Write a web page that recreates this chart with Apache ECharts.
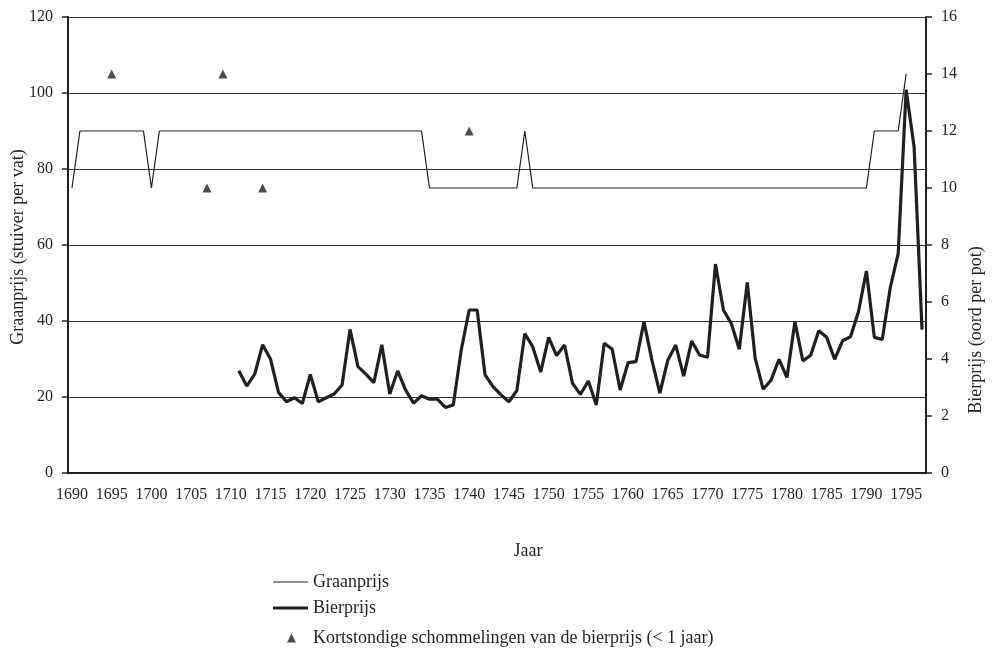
<!DOCTYPE html>
<html><head><meta charset="utf-8">
<script src="https://cdn.jsdelivr.net/npm/echarts@6/dist/echarts.min.js"></script>
<style>html,body{margin:0;padding:0;background:#fff}#c{width:992px;height:649px}</style>
</head><body><div id="c"></div>
<script>
const years = ['1690','1691','1692','1693','1694','1695','1696','1697','1698','1699',
'1700','1701','1702','1703','1704','1705','1706','1707','1708','1709',
'1710','1711','1712','1713','1714','1715','1716','1717','1718','1719',
'1720','1721','1722','1723','1724','1725','1726','1727','1728','1729',
'1730','1731','1732','1733','1734','1735','1736','1737','1738','1739',
'1740','1741','1742','1743','1744','1745','1746','1747','1748','1749',
'1750','1751','1752','1753','1754','1755','1756','1757','1758','1759',
'1760','1761','1762','1763','1764','1765','1766','1767','1768','1769',
'1770','1771','1772','1773','1774','1775','1776','1777','1778','1779',
'1780','1781','1782','1783','1784','1785','1786','1787','1788','1789',
'1790','1791','1792','1793','1794','1795','1796','1797'];

// Graanprijs (stuiver per vat), 1690-1797
const graanprijs = [
75,90,90,90,90,90,90,90,90,90,        // 1690-1699
75,90,90,90,90,90,90,90,90,90,        // 1700-1709
90,90,90,90,90,90,90,90,90,90,        // 1710-1719
90,90,90,90,90,90,90,90,90,90,        // 1720-1729
90,90,90,90,90,75,75,75,75,75,        // 1730-1739
75,75,75,75,75,75,75,90,75,75,        // 1740-1749
75,75,75,75,75,75,75,75,75,75,        // 1750-1759
75,75,75,75,75,75,75,75,75,75,        // 1760-1769
75,75,75,75,75,75,75,75,75,75,        // 1770-1779
75,75,75,75,75,75,75,75,75,75,        // 1780-1789
75,90,90,90,90,105,null,null];        // 1790-1797

// Bierprijs (oord per pot), 1690-1797
const bierprijs = [
null,null,null,null,null,null,null,null,null,null,
null,null,null,null,null,null,null,null,null,null,
null,3.59,3.05,3.47,4.5,3.99,2.83,2.5,2.64,2.44,
3.46,2.5,2.64,2.77,3.09,5.04,3.73,3.47,3.17,4.5,
2.77,3.58,2.91,2.45,2.71,2.59,2.59,2.3,2.39,4.32,
5.72,5.72,3.44,3.03,2.74,2.5,2.89,4.89,4.43,3.54,
4.76,4.12,4.49,3.15,2.76,3.23,2.39,4.55,4.34,2.91,
3.87,3.91,5.31,3.96,2.8,3.96,4.49,3.4,4.63,4.14,
4.06,7.33,5.72,5.24,4.34,6.69,4.02,2.94,3.26,3.99,
3.35,5.31,3.93,4.14,4.99,4.76,3.99,4.64,4.78,5.66,
7.09,4.76,4.69,6.5,7.7,13.45,11.45,5.03];

// Kortstondige schommelingen van de bierprijs
const schommelJaren = ['1695','1707','1709','1714','1740'];
const schommelWaarden = [14,10,14,10,12];

const ink = '#231f20';
const font = 'Liberation Serif';
const nG = 'Graanprijs', nB = 'Bierprijs', nK = 'Kortstondige schommelingen van de bierprijs (< 1 jaar)';
const legTxt = {fontFamily:font, fontSize:18, color:ink, lineHeight:20};

const chart = echarts.init(document.getElementById('c'), null, {renderer:'canvas'});
chart.setOption({
  animation:false,
  backgroundColor:'#fff',
  grid:{left:68, right:66, top:17, bottom:176, containLabel:false},
  xAxis:{
    type:'category', data:years, boundaryGap:true,
    axisLine:{lineStyle:{color:ink, width:2}},
    axisTick:{interval:4, length:5, lineStyle:{color:ink, width:1.5}},
    axisLabel:{interval:4, margin:14, fontFamily:font, fontSize:16, color:ink},
    splitLine:{show:false}
  },
  yAxis:[{
    type:'value', min:0, max:120, interval:20, position:'left',
    axisLine:{show:true, lineStyle:{color:ink, width:2}},
    axisTick:{show:true, length:6, lineStyle:{color:ink, width:1.5}},
    axisLabel:{margin:15, fontFamily:font, fontSize:16, color:ink},
    splitLine:{show:true, lineStyle:{color:'#333', width:1.2}}
  },{
    type:'value', min:0, max:16, interval:2, position:'right',
    axisLine:{show:true, lineStyle:{color:ink, width:2}},
    axisTick:{show:true, length:6, lineStyle:{color:ink, width:1.5}},
    axisLabel:{margin:15, fontFamily:font, fontSize:16, color:ink},
    splitLine:{show:false}
  }],
  legend:[{
    left:273, top:572, padding:0, itemWidth:35, itemHeight:9, textStyle:legTxt,
    data:[{name:nG, icon:'path://M0,0H36V1.2H0Z'}]
  },{
    left:273, top:598, padding:0, itemWidth:35, itemHeight:9, textStyle:legTxt,
    data:[{name:nB, icon:'path://M0,0H36V3H0Z'}]
  },{
    left:287, top:628, padding:0, itemWidth:9, itemHeight:9,
    textStyle:Object.assign({padding:[0,0,0,12]}, legTxt),
    data:[{name:nK, icon:'triangle'}]
  }],
  graphic:[
    {type:'text', x:528, y:551, style:{text:'Jaar', font:'18px "Liberation Serif"', fill:ink, textAlign:'center', textVerticalAlign:'middle'}},
    {type:'text', x:18, y:247, rotation:Math.PI/2, style:{text:'Graanprijs (stuiver per vat)', font:'18px "Liberation Serif"', fill:ink, textAlign:'center', textVerticalAlign:'middle'}},
    {type:'text', x:976, y:330, rotation:Math.PI/2, style:{text:'Bierprijs (oord per pot)', font:'18px "Liberation Serif"', fill:ink, textAlign:'center', textVerticalAlign:'middle'}}
  ],
  series:[{
    name:nG, type:'line', yAxisIndex:0, data:graanprijs,
    symbol:'none', lineStyle:{color:ink, width:1.2}, itemStyle:{color:ink}
  },{
    name:nB, type:'line', yAxisIndex:1, data:bierprijs,
    symbol:'none', lineStyle:{color:ink, width:3.2}, itemStyle:{color:ink}
  },{
    name:nK, type:'scatter', yAxisIndex:1,
    symbol:'triangle', symbolSize:[9,9], itemStyle:{color:ink},
    data:schommelJaren.map((y,i)=>[y, schommelWaarden[i]])
  }]
});
</script></body></html>
